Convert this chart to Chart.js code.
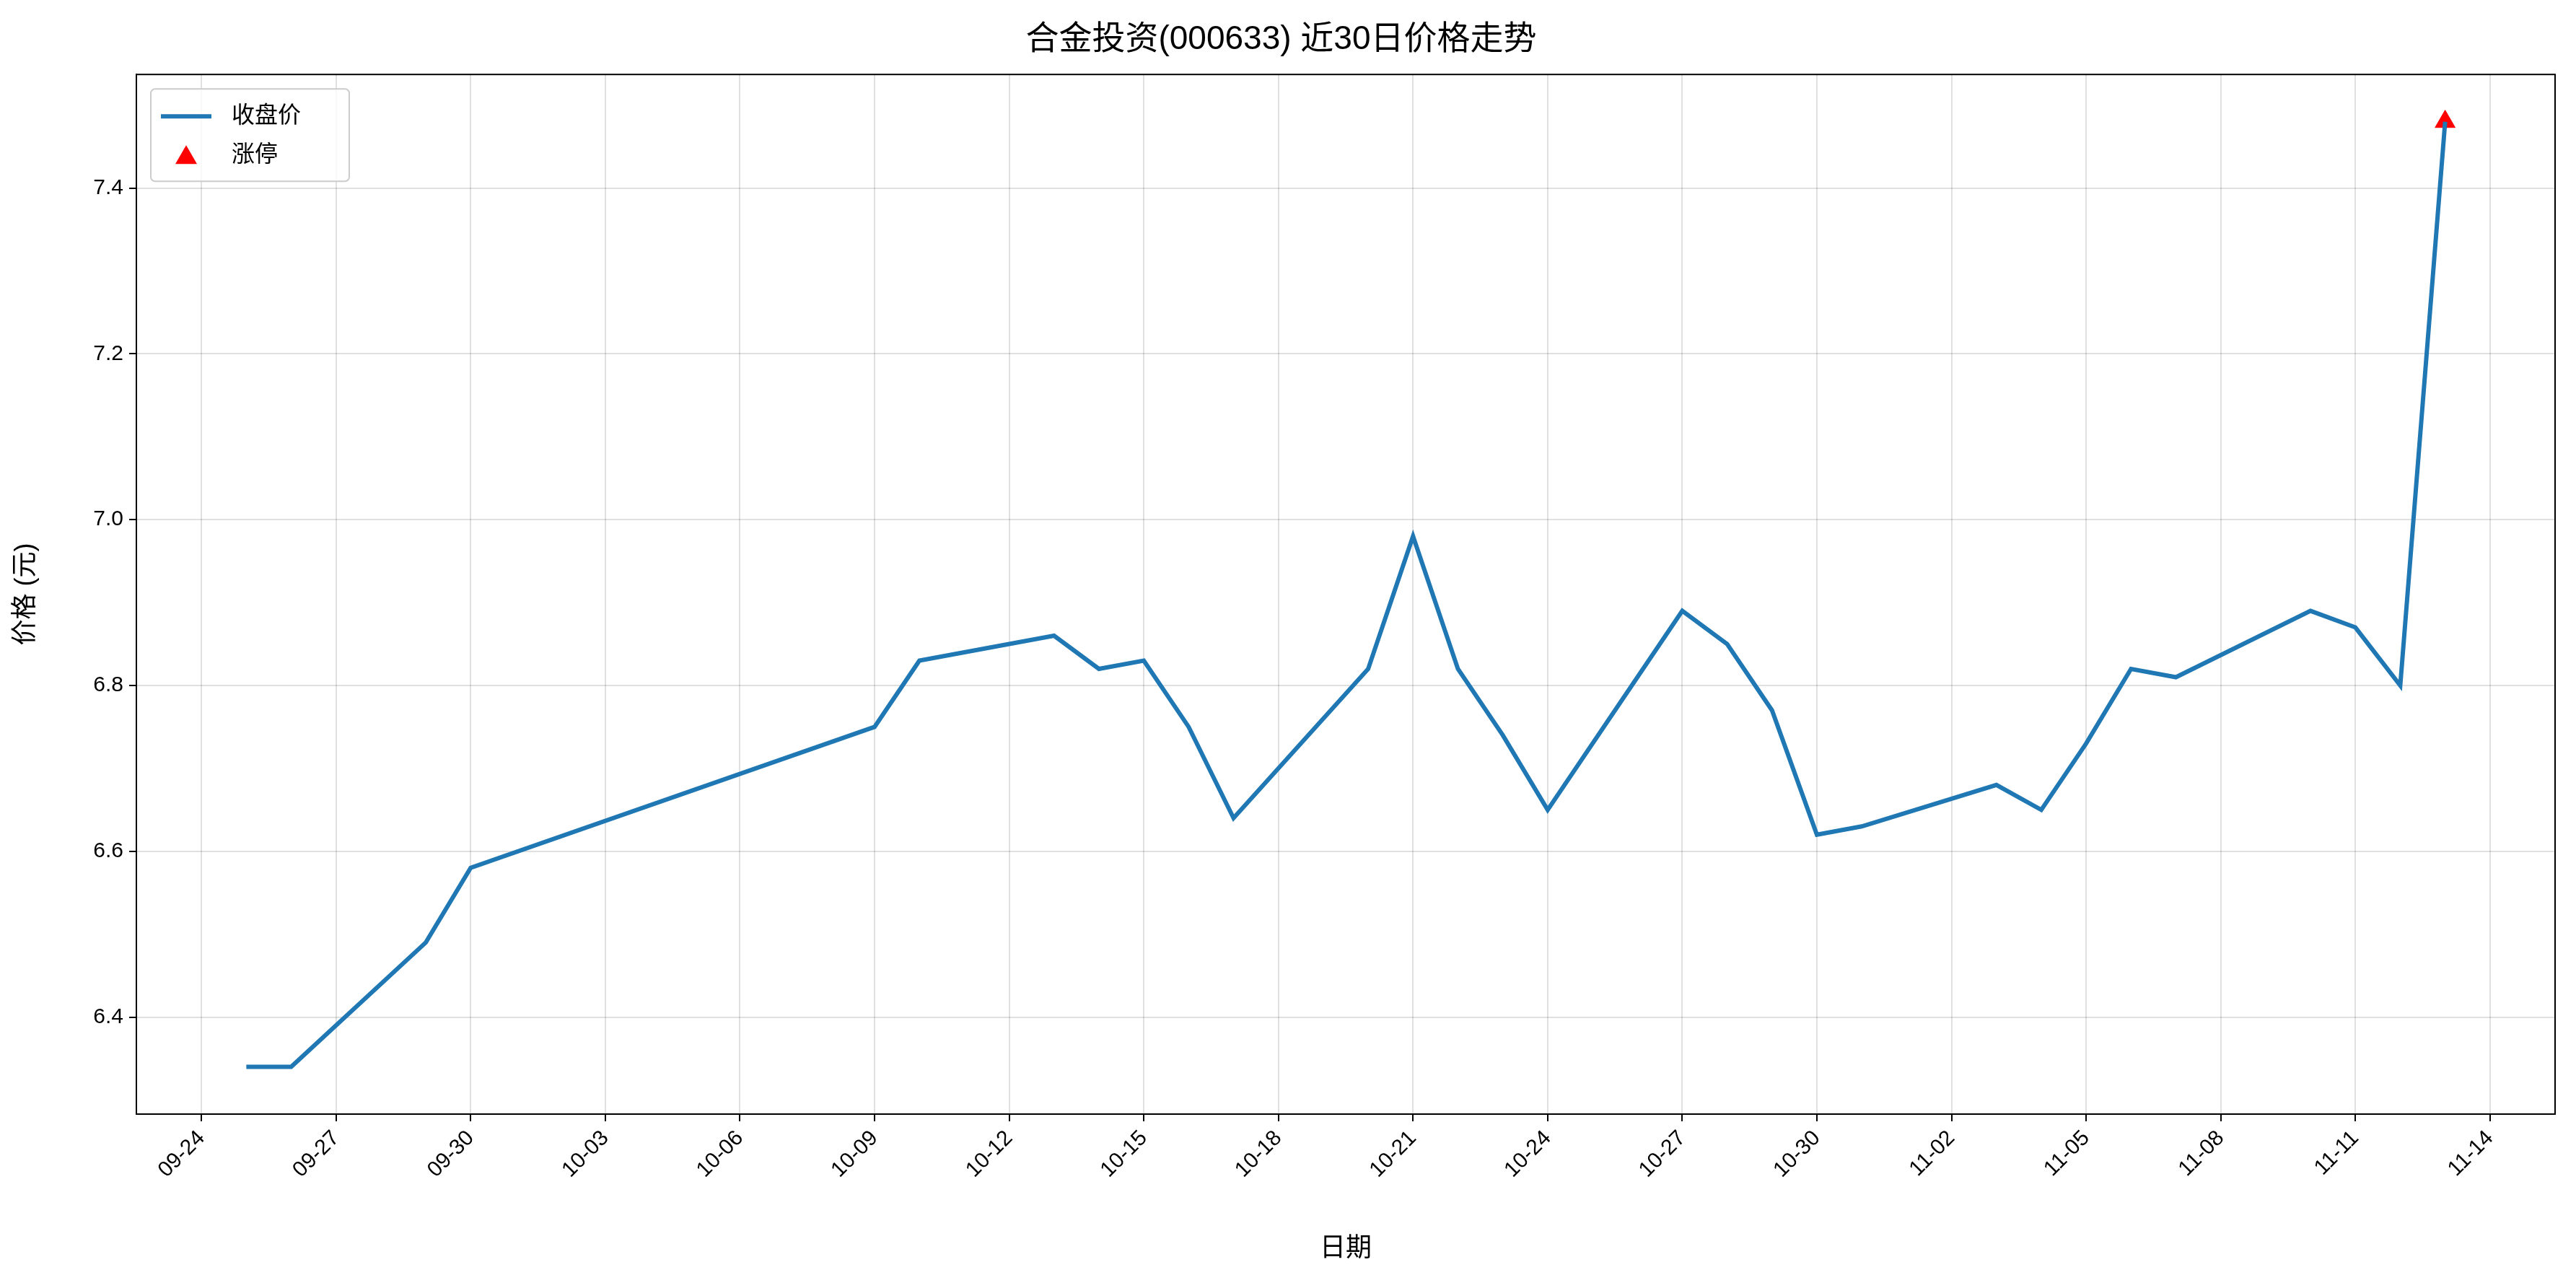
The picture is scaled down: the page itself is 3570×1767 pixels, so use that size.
<!DOCTYPE html>
<html><head><meta charset="utf-8">
<script src="https://cdn.jsdelivr.net/npm/chart.js@4/dist/chart.umd.min.js"></script>
<style>html,body{margin:0;background:#fff}#wrap{width:3570px;height:1767px}</style>
</head><body><div id="wrap"><canvas id="c"></canvas></div>
<script>
var dates = ['09-25','09-26','09-29','09-30','10-09','10-10','10-13','10-14','10-15','10-16','10-17',
  '10-20','10-21','10-22','10-23','10-24','10-27','10-28','10-29','10-30','10-31',
  '11-03','11-04','11-05','11-06','11-07','11-10','11-11','11-12','11-13'];
var closes = [6.34,6.34,6.49,6.58,6.75,6.83,6.86,6.82,6.83,6.75,6.64,
  6.82,6.98,6.82,6.74,6.65,6.89,6.85,6.77,6.62,6.63,
  6.68,6.65,6.73,6.82,6.81,6.89,6.87,6.80,7.48];
var limitUpDates = ['11-13'];
var limitUpValues = [7.48];
var yTicks = [6.4,6.6,6.8,7.0,7.2,7.4];

var base = new Date(2025,8,24);
function dayNum(s){ var p=s.split('-'); return Math.round((new Date(2025,+p[0]-1,+p[1]) - base)/86400000); }
function dayLabel(n){ var d=new Date(2025,8,24+n); return String(d.getMonth()+1).padStart(2,'0')+'-'+String(d.getDate()).padStart(2,'0'); }

var font = "Liberation Sans, 'Noto Sans CJK SC', sans-serif";
Chart.defaults.font.family = font;
Chart.defaults.color = '#000';

var legendBox = {
  id:'legendBox',
  afterDraw: function(ch){
    var c=ch.ctx, a=ch.chartArea;
    var x=a.left+20, y=a.top+20;
    c.save();
    c.fillStyle='rgba(255,255,255,0.8)'; c.strokeStyle='#ccc'; c.lineWidth=2;
    c.beginPath(); c.roundRect(x,y,275,128,6); c.fill(); c.stroke();
    c.strokeStyle='#1f77b4'; c.lineWidth=6;
    c.beginPath(); c.moveTo(x+14,y+38); c.lineTo(x+84,y+38); c.stroke();
    c.fillStyle='red';
    c.beginPath(); c.moveTo(x+49,y+78); c.lineTo(x+64,y+104); c.lineTo(x+34,y+104); c.closePath(); c.fill();
    c.fillStyle='#000'; c.font="32px "+font; c.textBaseline='middle';
    c.fillText('收盘价',x+112,y+38); c.fillText('涨停',x+112,y+92);
    c.restore();
  }
};

new Chart(document.getElementById('c'), {
  type:'line',
  data:{ datasets:[
    { data: dates.map(function(d,i){return {x:dayNum(d), y:closes[i]};}),
      borderColor:'#1f77b4', borderWidth:6, pointRadius:0, fill:false, tension:0 },
    { type:'scatter', data: limitUpDates.map(function(d,i){return {x:dayNum(d), y:limitUpValues[i]};}),
      backgroundColor:'red', borderColor:'red', pointStyle:'triangle', pointRadius:16 }
  ]},
  options:{
    responsive:true, maintainAspectRatio:false, animation:false,
    layout:{padding:{top:6,right:29,left:10,bottom:10}},
    plugins:{ legend:{display:false}, tooltip:{enabled:false},
      title:{display:true, text:'合金投资(000633) 近30日价格走势', font:{size:46,weight:'normal'}, padding:{top:22,bottom:20}} },
    scales:{
      x:{ type:'linear', min:-1.45, max:52.45,
        afterBuildTicks:function(s){ var t=[]; for(var n=0;n<=51;n+=3) t.push({value:n}); s.ticks=t; },
        afterFit:function(s){ s.height = 1767-1544-10; },
        ticks:{ callback:function(v){return dayLabel(v);}, font:{size:30}, maxRotation:45, minRotation:45, padding:6 },
        grid:{ color:'rgba(0,0,0,0.12)', lineWidth:2, tickColor:'#000', tickLength:10 },
        border:{color:'#000', width:2},
        title:{display:true, text:'日期', font:{size:36}, padding:{top:4}} },
      y:{ min:6.283, max:7.537,
        afterBuildTicks:function(s){ s.ticks=yTicks.map(function(v){return {value:v};}); },
        afterFit:function(s){ s.width = 189-10; },
        ticks:{ callback:function(v){return v.toFixed(1);}, font:{size:30}, padding:8 },
        grid:{ color:'rgba(0,0,0,0.12)', lineWidth:2, tickColor:'#000', tickLength:10 },
        border:{color:'#000', width:2},
        title:{display:true, text:'价格 (元)', font:{size:36}} }
    }
  },
  plugins:[legendBox, {id:'frame', afterDraw:function(ch){var c=ch.ctx,a=ch.chartArea;c.save();c.strokeStyle='#000';c.lineWidth=2;c.strokeRect(a.left,a.top,a.right-a.left,a.bottom-a.top);c.restore();}}]
});
</script></body></html>
